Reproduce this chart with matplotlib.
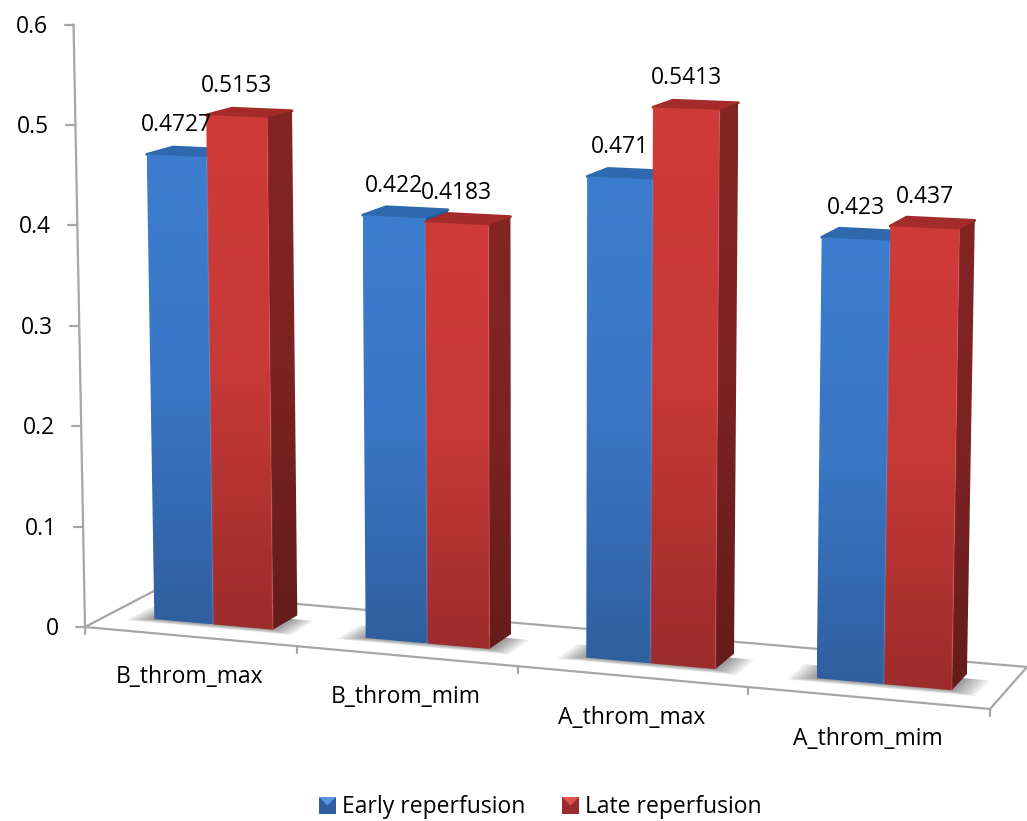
import numpy as np
import matplotlib
matplotlib.use('Agg')
import matplotlib.pyplot as plt
from matplotlib.colors import LinearSegmentedColormap
from matplotlib.patches import Polygon

plt.rcParams['font.family'] = ['Open Sans', 'DejaVu Sans']

categories = ['B_throm_max', 'B_throm_mim', 'A_throm_max', 'A_throm_mim']
early = [0.4727, 0.422, 0.471, 0.423]
late = [0.5153, 0.4183, 0.5413, 0.437]
early_labels = ['0.4727', '0.422', '0.471', '0.423']
late_labels = ['0.5153', '0.4183', '0.5413', '0.437']
yticks = [0, 0.1, 0.2, 0.3, 0.4, 0.5, 0.6]
ytick_labels = ['0', '0.1', '0.2', '0.3', '0.4', '0.5', '0.6']

W, H = 1027, 821
FONT = 16.5
GREY = '#a6a6a6'

# floor corners on the page, (category pos, depth) -> pixel
src = [(0, 0), (4, 0), (0, 1), (4, 1)]
dst = [(85, 627), (990, 709), (153, 591.5), (1027, 667)]
A = []
b = []
for (u, d), (x, y) in zip(src, dst):
    A.append([u, d, 1, 0, 0, 0, -u*x, -d*x])
    A.append([0, 0, 0, u, d, 1, -u*y, -d*y])
    b += [x, y]
hom = np.append(np.linalg.solve(np.array(A, float), np.array(b, float)), 1).reshape(3, 3)

D0, D1 = 0.33, 0.72


def floor(u, d):
    p = hom @ np.array([u, d, 1.0])
    return p[0]/p[2], p[1]/p[2]


def project(u, d, v, vp=364):
    # vertical edges lean out and scale with how near the floor point is
    x0, y0 = floor(u, d)
    return x0 + (x0 - 540)*0.042*v, y0 - (y0 + vp)*v


def grad_face(ax, pts, top, mid, bottom):
    pts = np.array(pts)
    cmap = LinearSegmentedColormap.from_list('f', [top, mid, bottom])
    clip = Polygon(pts, closed=True, transform=ax.transData, fc='none', ec='none')
    ax.add_patch(clip)
    im = ax.imshow(np.linspace(0, 1, 256).reshape(-1, 1), cmap=cmap, aspect='auto',
                   extent=(pts[:, 0].min(), pts[:, 0].max(), pts[:, 1].max(), pts[:, 1].min()),
                   interpolation='bilinear', zorder=3)
    im.set_clip_path(clip)


def bar(ax, u0, w, value, cols):
    fl = project(u0, D0, 0)
    fr = project(u0 + w, D0, 0)
    br = project(u0 + w, D1, 0)
    tfl = project(u0, D0, value)
    tfr = project(u0 + w, D0, value)
    tbr = project(u0 + w, D1, value)
    tbl = project(u0, D1, value)
    ax.add_patch(Polygon([tfl, tfr, tbr, tbl], closed=True, fc=cols['top'], ec=cols['top'],
                         lw=2, joinstyle='round', zorder=3))
    grad_face(ax, [tfr, tbr, br, fr], *cols['side'])
    grad_face(ax, [tfl, tfr, fr, fl], *cols['front'])
    ax.plot([tfr[0], fr[0]], [tfr[1], fr[1]], color=cols['edge'], lw=1.2, alpha=0.35, zorder=3.5)
    return (tfl[0] + tfr[0])/2, tfl[1]


def shadow(ax, u0, u1):
    for k in np.linspace(0.015, 0.11, 8):
        pad = k
        pts = [floor(u0 - pad, D0 - pad*0.8), floor(u1 + pad, D0 - pad*0.8),
               floor(u1 + pad, D1 - 0.1), floor(u0 - pad, D1 - 0.1)]
        ax.add_patch(Polygon(pts, closed=True, fc='black', ec='none', alpha=0.055, zorder=1.5))


fig = plt.figure(figsize=(W/100, H/100), dpi=100)
ax = fig.add_axes([0, 0, 1, 1])

blue = {'top': '#2e69ad', 'front': ('#3d7dcf', '#3a76c4', '#2f5f9f'),
        'side': ('#2a5a95', '#275389', '#1f4370'), 'edge': '#5a94dc'}
red = {'top': '#a32b2a', 'front': ('#cf3b38', '#c63937', '#9c2c2b'),
       'side': ('#822523', '#7b2322', '#641c1b'), 'edge': '#dd5450'}

# floor outline and axes
left0 = floor(0, 0)
right0 = floor(4, 0)
back0 = floor(0, 1)
back1 = floor(4, 1)
line_kw = dict(color=GREY, lw=1.6, solid_capstyle='round', zorder=1)
ax.plot([left0[0], right0[0]], [left0[1], right0[1]], **line_kw)
ax.plot([back0[0], back1[0]], [back0[1], back1[1]], **line_kw)
ax.plot([left0[0], back0[0]], [left0[1], back0[1]], **line_kw)
ax.plot([right0[0], back1[0]], [right0[1], back1[1]], **line_kw)

top_axis = project(0, 0, yticks[-1], vp=377)
ax.plot([left0[0], top_axis[0]], [left0[1], top_axis[1]], **line_kw)
for v, lab in zip(yticks, ytick_labels):
    px, py = project(0, 0, v, vp=377)
    ax.plot([px - 9, px], [py, py], **line_kw)
    ax.text(px - 26, py + 2, lab, ha='right', va='center', fontsize=FONT, color='black')

for i in range(len(categories) + 1):
    px, py = floor(i, 0)
    ax.plot([px, px], [py, py + 7], **line_kw)

# bars
u_start = 0.225
w = 0.283
for i, cat in enumerate(categories):
    shadow(ax, i + u_start, i + u_start + 2*w)
    bx, by = bar(ax, i + u_start, w, early[i], blue)
    rx, ry = bar(ax, i + u_start + w, w, late[i], red)
    ax.text(bx, by - 29, early_labels[i], ha='center', va='center', fontsize=FONT, color='black', zorder=5)
    ax.text(rx, ry - 29, late_labels[i], ha='center', va='center', fontsize=FONT, color='black', zorder=5)
    mx, my = floor(i + 0.5, 0)
    ax.text(mx, my + 41, cat, ha='center', va='center', fontsize=FONT, color='black')

# legend
for x0, cols, name, tx in [(319, blue, 'Early reperfusion', 342), (562, red, 'Late reperfusion', 585)]:
    s = 17
    y0 = 797
    ax.add_patch(Polygon([(x0, y0), (x0 + s, y0), (x0 + s, y0 + s), (x0, y0 + s)], closed=True,
                         fc=cols['front'][2], ec='none', zorder=3))
    ax.add_patch(Polygon([(x0, y0), (x0 + s, y0), (x0 + s/2, y0 + s/2)], closed=True,
                         fc=cols['edge'], ec='none', zorder=3.1))
    ax.text(tx, y0 + 10, name, ha='left', va='center', fontsize=FONT, color='black')

ax.set_xlim(0, W)
ax.set_ylim(H, 0)
ax.axis('off')

fig.savefig('out.png', dpi=100)
